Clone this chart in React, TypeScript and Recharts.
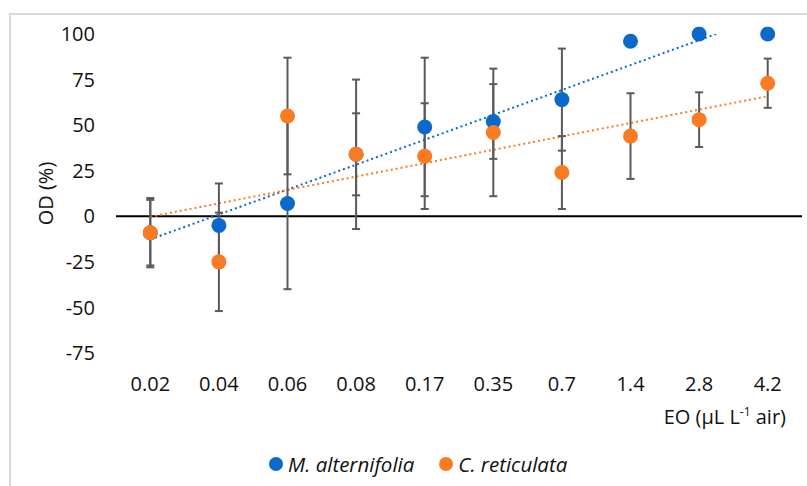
import {
  ComposedChart,
  ErrorBar,
  Label,
  Legend,
  Line,
  ReferenceLine,
  XAxis,
  YAxis,
} from "recharts"

// EO dose categories (µL L-1 air)
const doses = ["0.02", "0.04", "0.06", "0.08", "0.17", "0.35", "0.7", "1.4", "2.8", "4.2"]

// OD (%) per species, with the error bar half-widths
const alternifolia = [-9, -5, 7, 34, 49, 52, 64, 96, 100, 100]
const alternifoliaErr = [18, 23, 47, 22.5, 38, 20.5, 28, 0, 0, 0]
const reticulata = [-9, -25, 55, 34, 33, 46, 24, 44, 53, 73]
const reticulataErr = [19, 27, 32, 41, 29, 35, 20, 23.5, 15, 13.5]

const yTicks = [-75, -50, -25, 0, 25, 50, 75, 100]

const seriesNames = ["M. alternifolia", "C. reticulata"]
const BLUE = "#0b69cc"
const ORANGE = "#fb7b22"
const FONT = "'Open Sans', sans-serif"

// linear trendline (least squares against category index), like excel's
const trend = (ys: number[]) => {
  const n = ys.length
  const mx = (n - 1) / 2
  const my = ys.reduce((a, b) => a + b, 0) / n
  let sxy = 0
  let sxx = 0
  ys.forEach((y, i) => {
    sxy += (i - mx) * (y - my)
    sxx += (i - mx) * (i - mx)
  })
  const slope = sxy / sxx
  return ys.map((_, i) => my + slope * (i - mx))
}

const altTrend = trend(alternifolia)
const retTrend = trend(reticulata)

const data = doses.map((dose, i) => ({
  dose,
  alt: alternifolia[i],
  altErr: alternifoliaErr[i],
  ret: reticulata[i],
  retErr: reticulataErr[i],
  altTrend: altTrend[i],
  retTrend: retTrend[i],
}))

const renderLegend = () => (
  <div style={{ display: "flex", alignItems: "center", fontFamily: FONT, fontSize: 20.5 }}>
    {seriesNames.map((name, i) => (
      <div key={name} style={{ display: "flex", alignItems: "center", marginRight: 25 }}>
        <span
          style={{
            width: 14,
            height: 14,
            borderRadius: 7,
            background: i === 0 ? BLUE : ORANGE,
            marginRight: 5,
          }}
        />
        <span style={{ fontStyle: "italic", color: "#111" }}>{name}</span>
      </div>
    ))}
  </div>
)

export default function App() {
  return (
    <div style={{ position: "absolute", left: 0, top: 0, width: 807, height: 486, background: "#fff" }}>
      <div
        style={{
          position: "absolute",
          left: 9,
          top: 13,
          width: 798,
          height: 473,
          boxSizing: "border-box",
          borderLeft: "2px solid #d9d9d9",
          borderTop: "2px solid #d9d9d9",
        }}
      />
      <ComposedChart
        width={807}
        height={486}
        data={data}
        margin={{ top: 34, right: 5, left: 0, bottom: 93 }}
      >
        <XAxis
          dataKey="dose"
          scale="band"
          height={40}
          interval={0}
          axisLine={false}
          tickLine={false}
          tickSize={0}
          tickMargin={24}
          tick={{ fontSize: 20, fill: "#111", fontFamily: FONT }}
        >
          <Label
            content={(props: any) => {
              const vb = props.viewBox
              return (
                <text
                  x={vb.x + vb.width - 16}
                  y={vb.y + 71}
                  textAnchor="end"
                  fontSize={20}
                  fontFamily={FONT}
                  fill="#111"
                >
                  EO (µL L
                  <tspan dy={-8} fontSize={12}>-1</tspan>
                  <tspan dy={8}> air)</tspan>
                </text>
              )
            }}
          />
        </XAxis>
        <YAxis
          type="number"
          domain={[-75, 100]}
          ticks={yTicks}
          allowDataOverflow
          width={116}
          axisLine={false}
          tickLine={false}
          tickSize={0}
          tickMargin={21}
          tick={{ fontSize: 20, fill: "#111", fontFamily: FONT }}
        >
          <Label
            content={(props: any) => {
              const vb = props.viewBox
              const cx = vb.x + 45
              const cy = vb.y + vb.height / 2
              return (
                <text
                  x={cx}
                  y={cy}
                  transform={`rotate(-90 ${cx} ${cy})`}
                  textAnchor="middle"
                  dominantBaseline="central"
                  fontSize={20}
                  fontFamily={FONT}
                  fill="#111"
                >
                  OD (%)
                </text>
              )
            }}
          />
        </YAxis>
        <ReferenceLine y={0} stroke="#000" strokeWidth={2} />
        <Line
          dataKey="altTrend"
          stroke={BLUE}
          strokeWidth={2}
          strokeDasharray="2 3"
          dot={false}
          activeDot={false}
          legendType="none"
          isAnimationActive={false}
        />
        <Line
          dataKey="retTrend"
          stroke={ORANGE}
          strokeWidth={2}
          strokeDasharray="2 3"
          dot={false}
          activeDot={false}
          legendType="none"
          isAnimationActive={false}
        />
        <Line
          dataKey="alt"
          name={seriesNames[0]}
          stroke="none"
          dot={{ r: 7.5, fill: BLUE, stroke: BLUE, strokeWidth: 0, clipDot: false }}
          activeDot={false}
          isAnimationActive={false}
        >
          <ErrorBar dataKey="altErr" direction="y" width={4} stroke="#5a5a5a" strokeWidth={2} />
        </Line>
        <Line
          dataKey="ret"
          name={seriesNames[1]}
          stroke="none"
          dot={{ r: 7.5, fill: ORANGE, stroke: ORANGE, strokeWidth: 0, clipDot: false }}
          activeDot={false}
          isAnimationActive={false}
        >
          <ErrorBar dataKey="retErr" direction="y" width={4} stroke="#5a5a5a" strokeWidth={2} />
        </Line>
        <Legend
          layout="horizontal"
          verticalAlign="middle"
          content={renderLegend}
          wrapperStyle={{ left: 269, top: 450, width: "auto" }}
        />
      </ComposedChart>
    </div>
  )
}
